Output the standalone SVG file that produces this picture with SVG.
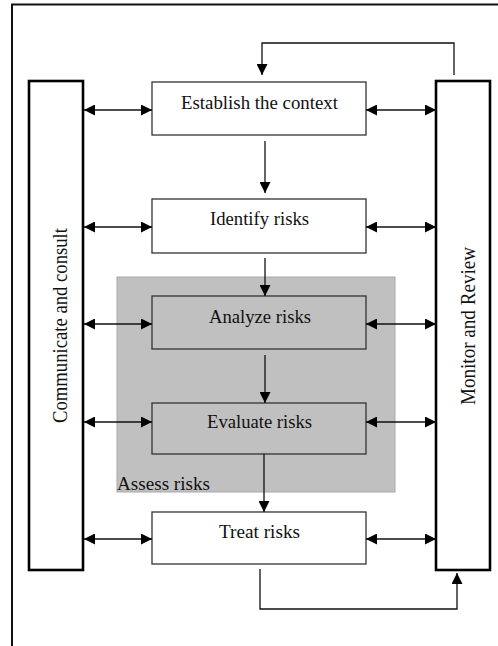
<svg xmlns="http://www.w3.org/2000/svg" width="498" height="646" viewBox="0 0 498 646">
<style>
.box{fill:#fff;stroke:#333;stroke-width:1.3}
.col{fill:#fff;stroke:#000;stroke-width:2.6}
.lbl{font-family:"Liberation Serif","Times New Roman",serif;font-size:18px;fill:#111;text-anchor:middle}
.side{font-size:22px}
.ln{fill:none;stroke:#111;stroke-width:1.3}
</style>
<defs>
<marker id="ah" viewBox="0 0 10 10" refX="10" refY="5" markerWidth="11" markerHeight="11" markerUnits="userSpaceOnUse" orient="auto-start-reverse">
<path d="M0,0 L10,5 L0,10 z" fill="#000"/>
</marker>
</defs>
<rect width="498" height="646" fill="#fff"/>
<path d="M12,646 V4.5 H498" fill="none" stroke="#111" stroke-width="2"/>
<g id="assess">
<rect x="117" y="277" width="278" height="215" fill="#c0c0c0" stroke="#a8a8a8" stroke-width="1"/>
<text x="117" y="490" class="lbl" style="text-anchor:start" textLength="93" lengthAdjust="spacingAndGlyphs">Assess risks</text>
</g>
<g id="communicate">
<rect x="29" y="81" width="54" height="489" class="col"/>
<text class="lbl side" transform="translate(67,325.5) rotate(-90)" textLength="195" lengthAdjust="spacingAndGlyphs">Communicate and consult</text>
</g>
<g id="monitor">
<rect x="436" y="81" width="54" height="489" class="col"/>
<text class="lbl side" transform="translate(475,326) rotate(-90)" textLength="158" lengthAdjust="spacingAndGlyphs">Monitor and Review</text>
</g>
<g id="establish">
<rect x="152" y="82" width="214" height="53" class="box"/>
<text x="259.5" y="109" class="lbl" textLength="157" lengthAdjust="spacingAndGlyphs">Establish the context</text>
</g>
<g id="identify">
<rect x="152" y="199" width="214" height="54" class="box"/>
<text x="259.5" y="225" class="lbl" textLength="99" lengthAdjust="spacingAndGlyphs">Identify risks</text>
</g>
<g id="analyze">
<rect x="152" y="296" width="214" height="53" class="box" style="fill:none"/>
<text x="260" y="323" class="lbl" textLength="102" lengthAdjust="spacingAndGlyphs">Analyze risks</text>
</g>
<g id="evaluate">
<rect x="152" y="403" width="214" height="51" class="box" style="fill:none"/>
<text x="259.5" y="428" class="lbl" textLength="105" lengthAdjust="spacingAndGlyphs">Evaluate risks</text>
</g>
<g id="treat">
<rect x="152" y="512" width="214" height="52" class="box"/>
<text x="259.5" y="538" class="lbl" textLength="81" lengthAdjust="spacingAndGlyphs">Treat risks</text>
</g>
<g id="connectors">
<line x1="84" y1="110" x2="152" y2="110" class="ln" marker-start="url(#ah)" marker-end="url(#ah)"/>
<line x1="366" y1="110" x2="436" y2="110" class="ln" marker-start="url(#ah)" marker-end="url(#ah)"/>
<line x1="84" y1="227" x2="152" y2="227" class="ln" marker-start="url(#ah)" marker-end="url(#ah)"/>
<line x1="366" y1="227" x2="436" y2="227" class="ln" marker-start="url(#ah)" marker-end="url(#ah)"/>
<line x1="84" y1="324" x2="152" y2="324" class="ln" marker-start="url(#ah)" marker-end="url(#ah)"/>
<line x1="366" y1="324" x2="436" y2="324" class="ln" marker-start="url(#ah)" marker-end="url(#ah)"/>
<line x1="84" y1="422" x2="152" y2="422" class="ln" marker-start="url(#ah)" marker-end="url(#ah)"/>
<line x1="366" y1="422" x2="436" y2="422" class="ln" marker-start="url(#ah)" marker-end="url(#ah)"/>
<line x1="84" y1="539" x2="152" y2="539" class="ln" marker-start="url(#ah)" marker-end="url(#ah)"/>
<line x1="366" y1="539" x2="436" y2="539" class="ln" marker-start="url(#ah)" marker-end="url(#ah)"/>
<line x1="265" y1="141" x2="265" y2="193" class="ln" marker-end="url(#ah)"/>
<line x1="265" y1="258" x2="265" y2="296" class="ln" marker-end="url(#ah)"/>
<line x1="265" y1="355" x2="265" y2="403" class="ln" marker-end="url(#ah)"/>
<line x1="264" y1="454" x2="264" y2="512" class="ln" marker-end="url(#ah)"/>
<path d="M454,75 V43 H262 V75" class="ln" marker-end="url(#ah)"/>
<path d="M260,569 V609 H457 V573" class="ln" marker-end="url(#ah)"/>
</g>
</svg>
